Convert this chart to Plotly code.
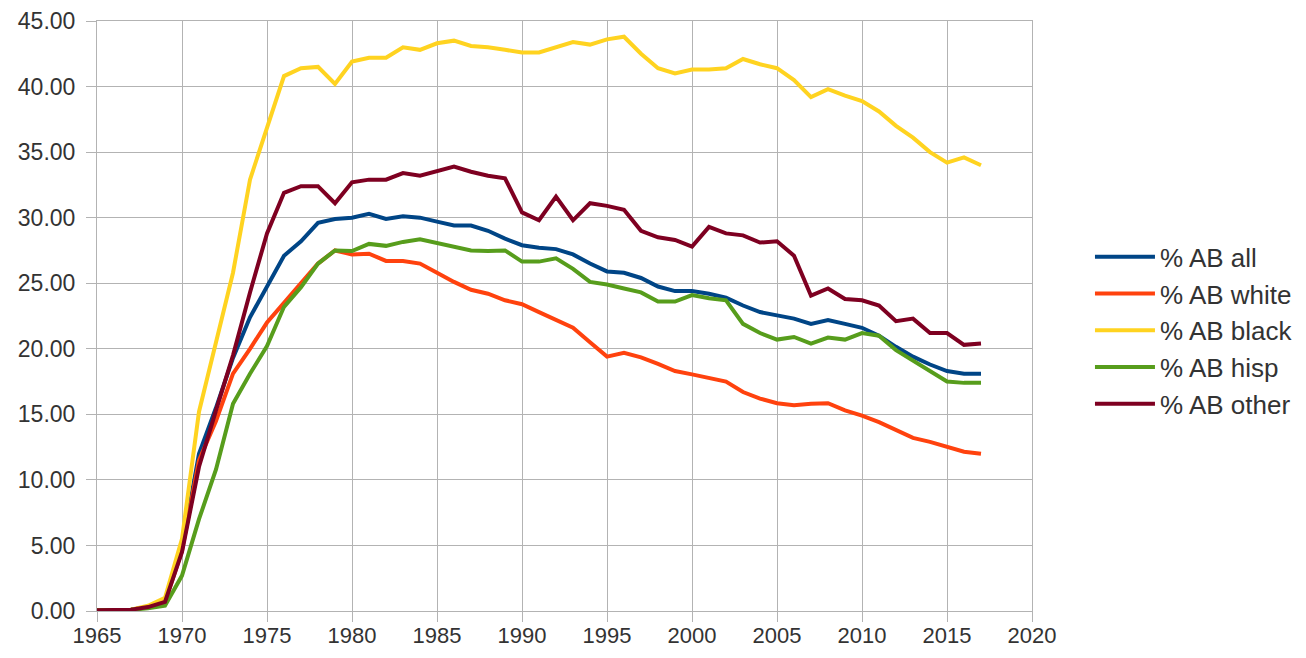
import plotly.graph_objects as go

years = list(range(1965, 2018))

ab_all = [0.05, 0.05, 0.1, 0.3, 0.75, 4.8, 12.0, 15.5, 19.3, 22.4, 24.7, 27.1, 28.2, 29.6, 29.9,
          30.0, 30.3, 29.9, 30.1, 30.0, 29.7, 29.4, 29.4, 29.0, 28.4, 27.9, 27.7, 27.6, 27.2,
          26.5, 25.9, 25.8, 25.4, 24.75, 24.4, 24.4, 24.2, 23.9, 23.3, 22.8, 22.55, 22.3, 21.9,
          22.2, 21.9, 21.6, 21.0, 20.15, 19.4, 18.8, 18.3, 18.1, 18.1]

ab_white = [0.05, 0.05, 0.1, 0.3, 0.7, 4.6, 11.5, 14.5, 18.1, 20.0, 22.0, 23.5, 25.0, 26.5, 27.5,
            27.2, 27.25, 26.7, 26.7, 26.5, 25.8, 25.1, 24.5, 24.2, 23.7, 23.4, 22.8, 22.2, 21.6,
            20.5, 19.4, 19.7, 19.35, 18.85, 18.3, 18.05, 17.8, 17.5, 16.7, 16.2, 15.85, 15.7, 15.8,
            15.85, 15.3, 14.9, 14.4, 13.8, 13.2, 12.9, 12.5, 12.15, 12.0]

ab_black = [0.05, 0.05, 0.1, 0.4, 1.0, 5.5, 15.2, 20.5, 25.8, 32.9, 36.9, 40.8, 41.4, 41.5, 40.2,
            41.9, 42.2, 42.2, 43.0, 42.8, 43.3, 43.5, 43.1, 43.0, 42.8, 42.6, 42.6, 43.0, 43.4,
            43.2, 43.6, 43.8, 42.5, 41.4, 41.0, 41.3, 41.3, 41.4, 42.1, 41.7, 41.4, 40.5, 39.2,
            39.8, 39.3, 38.9, 38.1, 37.0, 36.1, 35.0, 34.2, 34.6, 34.0]

ab_hisp = [0.05, 0.05, 0.1, 0.2, 0.4, 2.7, 7.0, 10.8, 15.8, 18.1, 20.2, 23.2, 24.7, 26.5, 27.5,
           27.45, 28.0, 27.85, 28.15, 28.35, 28.05, 27.8, 27.5, 27.45, 27.5, 26.65, 26.65, 26.9, 26.1,
           25.1, 24.9, 24.6, 24.3, 23.6, 23.6, 24.1, 23.85, 23.7, 21.9, 21.2, 20.7, 20.9, 20.4,
           20.85, 20.7, 21.2, 21.0, 19.9, 19.1, 18.25, 17.5, 17.4, 17.4]

ab_other = [0.05, 0.05, 0.1, 0.3, 0.7, 4.5, 11.0, 15.3, 19.5, 24.3, 28.8, 31.9, 32.4, 32.4, 31.1,
            32.7, 32.9, 32.9, 33.4, 33.2, 33.55, 33.9, 33.5, 33.2, 33.0, 30.4, 29.8, 31.6, 29.8,
            31.1, 30.9, 30.6, 29.0, 28.5, 28.3, 27.8, 29.3, 28.8, 28.65, 28.1, 28.2, 27.1, 24.05,
            24.6, 23.8, 23.7, 23.3, 22.1, 22.3, 21.2, 21.2, 20.3, 20.4]

series_names = ["% AB all", "% AB white", "% AB black", "% AB hisp", "% AB other"]
series_values = [ab_all, ab_white, ab_black, ab_hisp, ab_other]
colors = ["#004586", "#ff420e", "#ffd320", "#579d1c", "#7e0021"]

fig = go.Figure()
for i, (name, vals, col) in enumerate(zip(series_names, series_values, colors)):
    fig.add_trace(go.Scatter(x=years, y=vals, mode="lines", name=name, legendgroup=f"g{i}",
                             line=dict(color=col, width=4)))

grid = "#b3b3b3"
fam = "Liberation Sans, Arial, sans-serif"
font = dict(family=fam, size=23, color="#333333")

# page has an 8px body margin; figure sized so that the whole page is 1306x658
fig.update_layout(
    width=1290, height=642,
    margin=dict(l=89, r=266, t=13, b=39, autoexpand=False),
    paper_bgcolor="white", plot_bgcolor="white",
    font=font,
    showlegend=True,
    legend=dict(x=1.062, y=0.475, xanchor="left", yanchor="middle",
                font=dict(family=fam, size=26, color="#333333"),
                bgcolor="rgba(0,0,0,0)", tracegroupgap=0, itemwidth=60),
)
fig.update_xaxes(range=[1965, 2020], dtick=5, tick0=1965, showgrid=True, gridcolor=grid,
                 gridwidth=1, zeroline=False, showline=True, linecolor=grid, linewidth=1,
                 mirror=True, ticks="outside", ticklen=10, tickcolor=grid,
                 tickfont=dict(family=fam, size=22, color="#333333"), automargin=False,
                 ticklabelstandoff=-5)
fig.update_yaxes(range=[0, 45], dtick=5, tick0=0, tickformat=".2f", showgrid=True,
                 gridcolor=grid, gridwidth=1, zeroline=False, showline=True, linecolor=grid,
                 linewidth=1, mirror=True, ticks="outside", ticklen=10, tickcolor=grid,
                 tickfont=font, automargin=False, ticklabelstandoff=6)

fig.write_html("out.html")
